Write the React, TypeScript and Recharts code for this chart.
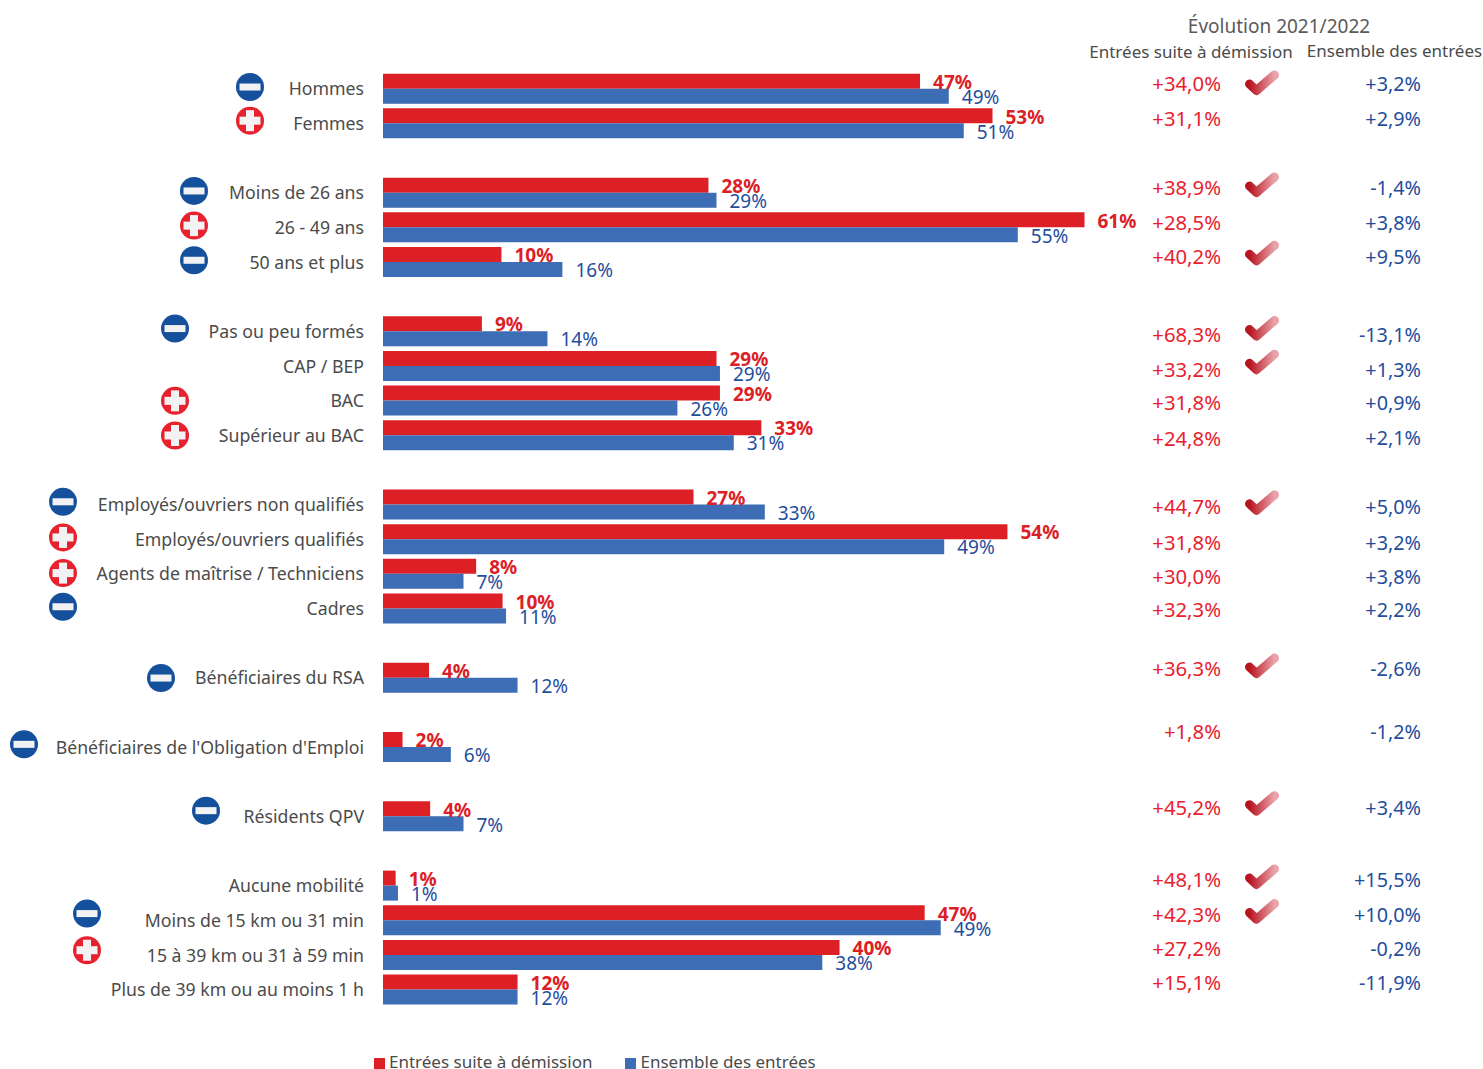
import { BarChart, Bar, XAxis, YAxis, LabelList, Legend } from 'recharts';

const FONT = '"Noto Sans", sans-serif';
const RED = '#dc2026';
const BLUE = '#3d6db5';
const RED_TEXT = '#e8212e';
const BLUE_TEXT = '#1f4e9c';
const GREY = '#4b4b4b';

// one entry per row, '' / null for the blank rows between the groups
const categories = [
    'Hommes', 'Femmes', '',
    'Moins de 26 ans', '26 - 49 ans', '50 ans et plus', '',
    'Pas ou peu formés', 'CAP / BEP', 'BAC', 'Supérieur au BAC', '',
    'Employés/ouvriers non qualifiés', 'Employés/ouvriers qualifiés', 'Agents de maîtrise / Techniciens', 'Cadres', '',
    'Bénéficiaires du RSA', '',
    "Bénéficiaires de l'Obligation d'Emploi", '',
    'Résidents QPV', '',
    'Aucune mobilité', 'Moins de 15 km ou 31 min', '15 à 39 km ou 31 à 59 min', 'Plus de 39 km ou au moins 1 h',
];
const demissionValues = [
    46.7, 53.0, null,
    28.3, 61.0, 10.3, null,
    8.6, 29.0, 29.3, 32.9, null,
    27.0, 54.3, 8.1, 10.4, null,
    4.0, null,
    1.7, null,
    4.1, null,
    1.1, 47.1, 39.7, 11.7,
];
const ensembleValues = [
    49.2, 50.5, null,
    29.0, 55.2, 15.6, null,
    14.3, 29.3, 25.6, 30.5, null,
    33.2, 48.8, 7.0, 10.7, null,
    11.7, null,
    5.9, null,
    7.0, null,
    1.3, 48.5, 38.2, 11.7,
];
const evolutionDemission = [
    '+34,0%', '+31,1%', '',
    '+38,9%', '+28,5%', '+40,2%', '',
    '+68,3%', '+33,2%', '+31,8%', '+24,8%', '',
    '+44,7%', '+31,8%', '+30,0%', '+32,3%', '',
    '+36,3%', '',
    '+1,8%', '',
    '+45,2%', '',
    '+48,1%', '+42,3%', '+27,2%', '+15,1%',
];
const evolutionEnsemble = [
    '+3,2%', '+2,9%', '',
    '-1,4%', '+3,8%', '+9,5%', '',
    '-13,1%', '+1,3%', '+0,9%', '+2,1%', '',
    '+5,0%', '+3,2%', '+3,8%', '+2,2%', '',
    '-2,6%', '',
    '-1,2%', '',
    '+3,4%', '',
    '+15,5%', '+10,0%', '-0,2%', '-11,9%',
];
// '-' blue badge, '+' red badge, '' none
const signs = [
    '-', '+', '',
    '-', '+', '-', '',
    '-', '', '+', '+', '',
    '-', '+', '+', '-', '',
    '-', '',
    '-', '',
    '-', '',
    '', '-', '+', '',
];
const checked = [
    1, 0, 0,
    1, 0, 1, 0,
    1, 1, 0, 0, 0,
    1, 0, 0, 0, 0,
    1, 0,
    0, 0,
    1, 0,
    1, 1, 0, 0,
];

// layout of the hand placed annotations, per row
const badgeX = [250, 250, 0, 194, 194, 194, 0, 175, 0, 175, 175, 0, 63, 63, 63, 63, 0, 161, 0, 24, 0, 206, 0, 0, 87, 87, 0];
const badgeDy = [-2, -3, 0, -2, -2, -2, 0, -3, 0, 0, 0, 0, -3, -2, -1, -2, 0, 0, 0, -3, 0, -6, 0, 0, -7, -5, 0];
const columnDy = [-5, -4.5, 0, -5, -4.5, -5, 0, 3.5, 4, 2.5, 3, 0, 2.5, 3.5, 2.5, 1.5, 0, -9, 0, -15, 0, -8.5, 0, -6, -5.5, -6, -7];
const checkDy = [-6, 0, 0, -8, 0, -9, 0, -3, -4, 0, 0, 0, -2, 0, 0, 0, 0, -12, 0, 0, 0, -13, 0, -9, -9, 0, 0];

const rows = categories.map((name, i) => ({
    name,
    demission: demissionValues[i],
    ensemble: ensembleValues[i],
}));

function Badge({ cx, cy, sign }: { cx: number; cy: number; sign: string }) {
    if (sign === '-') {
        return (
            <g>
                <circle cx={cx} cy={cy} r={14} fill="#14509c" />
                <rect x={cx - 10.5} y={cy - 3.5} width={21} height={7} fill="#f2f2f4" />
            </g>
        );
    }
    return (
        <g>
            <circle cx={cx} cy={cy} r={14} fill="#e8212e" />
            <rect x={cx - 10.5} y={cy - 4} width={21} height={8} fill="#f2f2f4" />
            <rect x={cx - 4} y={cy - 10.5} width={8} height={21} fill="#f2f2f4" />
        </g>
    );
}

function RowTick({ y, payload }: any) {
    const i = payload.index;
    if (!categories[i]) return null;
    const colY = y + columnDy[i];
    const cy = y + checkDy[i];
    return (
        <g fontFamily={FONT}>
            <text x={364} y={y} dy="0.36em" textAnchor="end" fontSize={17.7} fill={GREY}>
                {categories[i]}
            </text>
            {signs[i] && <Badge cx={badgeX[i]} cy={y + badgeDy[i]} sign={signs[i]} />}
            <text x={1221} y={colY} dy="0.35em" textAnchor="end" fontSize={20.3} fill={RED_TEXT}>
                {evolutionDemission[i]}
            </text>
            <text x={1421} y={colY} dy="0.35em" textAnchor="end" fontSize={19.8} fill={BLUE_TEXT}>
                {evolutionEnsemble[i]}
            </text>
            {checked[i] === 1 && (
                <path
                    d={`M1249.5 ${cy + 1} L1256.5 ${cy + 7.5} L1274.5 ${cy - 8}`}
                    fill="none"
                    stroke="url(#checkFill)"
                    strokeWidth={9}
                    strokeLinecap="round"
                    strokeLinejoin="round"
                />
            )}
        </g>
    );
}

function LegendContent({ payload }: any) {
    return (
        <div style={{ display: 'flex', fontFamily: FONT, fontSize: 17, color: GREY, lineHeight: '24px' }}>
            {(payload || []).map((entry: any, i: number) => (
                <div key={entry.value} style={{ display: 'flex', alignItems: 'center', marginRight: i === 0 ? 33 : 0 }}>
                    <span style={{ width: 11, height: 11, background: entry.color, marginRight: 4, marginTop: 3 }} />
                    {entry.value}
                </div>
            ))}
        </div>
    );
}

const pctLabel = (v: any) => (v == null ? '' : `${Math.round(v)}%`);

export default function App() {
    return (
        <div style={{ position: 'absolute', left: 0, top: 0, width: 1483, height: 1069, background: '#fff', overflow: 'hidden' }}>
            <BarChart
                width={1483}
                height={1069}
                data={rows}
                layout="vertical"
                barSize={15}
                barGap={0}
                margin={{ top: 71.7, right: 295, bottom: 61.8, left: 0 }}
            >
                <defs>
                    <linearGradient id="checkFill" x1="0" y1="0" x2="1" y2="0">
                        <stop offset="0%" stopColor="#b8141f" />
                        <stop offset="100%" stopColor="#e9a3aa" />
                    </linearGradient>
                </defs>
                <XAxis type="number" domain={[0, 70]} hide />
                <YAxis
                    type="category"
                    dataKey="name"
                    width={383}
                    interval={0}
                    axisLine={false}
                    tickLine={false}
                    tick={RowTick}
                />
                <Legend
                    layout="horizontal"
                    verticalAlign="middle"
                    align="center"
                    itemSorter={null}
                    content={LegendContent}
                    wrapperStyle={{ left: 374, top: 1050, width: 520, height: 24 }}
                />
                <Bar dataKey="demission" name="Entrées suite à démission" fill={RED} isAnimationActive={false}>
                    <LabelList
                        dataKey="demission"
                        position="right"
                        offset={13}
                        formatter={pctLabel}
                        fill={RED}
                        fontFamily={FONT}
                        fontSize={19}
                        fontWeight={700}
                        dy={1}
                    />
                </Bar>
                <Bar dataKey="ensemble" name="Ensemble des entrées" fill={BLUE} isAnimationActive={false}>
                    <LabelList
                        dataKey="ensemble"
                        position="right"
                        offset={13}
                        formatter={pctLabel}
                        fill={BLUE_TEXT}
                        fontFamily={FONT}
                        fontSize={19}
                        dy={1}
                    />
                </Bar>
                <text x={1279} y={26} dy="0.35em" textAnchor="middle" fontFamily={FONT} fontSize={19} fill="#5a5a5a">
                    Évolution 2021/2022
                </text>
                <text x={1191} y={52} dy="0.35em" textAnchor="middle" fontFamily={FONT} fontSize={17} fill={GREY}>
                    Entrées suite à démission
                </text>
                <text x={1394.5} y={51} dy="0.35em" textAnchor="middle" fontFamily={FONT} fontSize={17} fill={GREY}>
                    Ensemble des entrées
                </text>
            </BarChart>
        </div>
    );
}
